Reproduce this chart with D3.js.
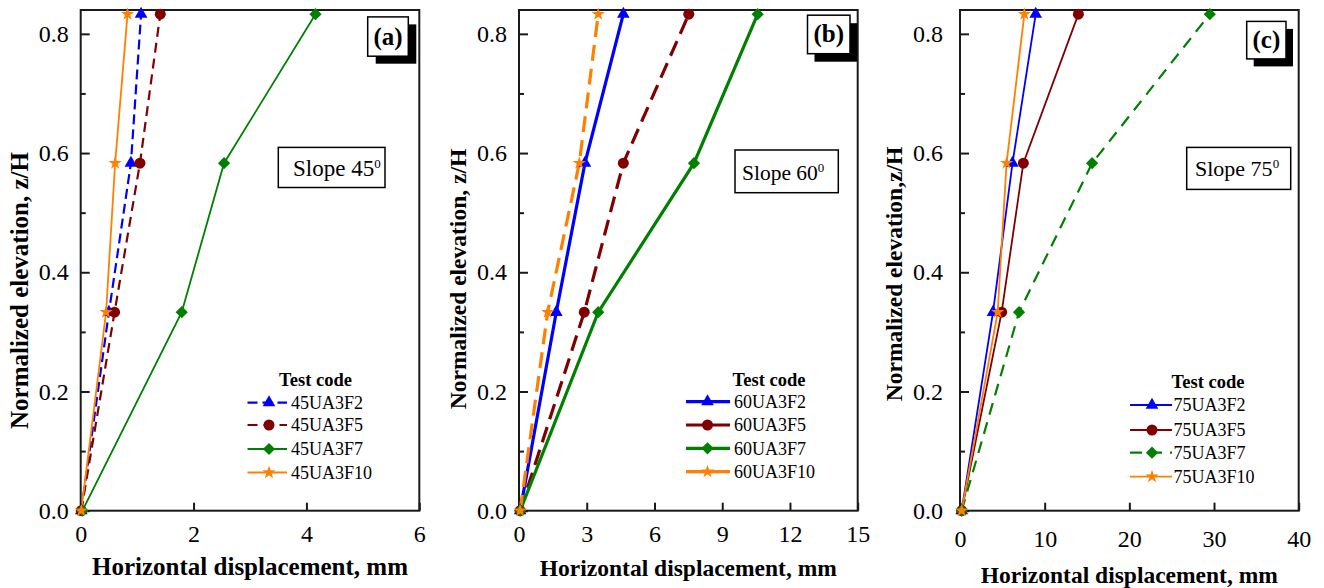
<!DOCTYPE html>
<html>
<head>
<meta charset="utf-8">
<script src="https://cdn.jsdelivr.net/npm/d3@7"></script>
<style>
	body	{ margin: 0; background: #fff; }
	svg		{ display: block; }
	text	{ font-family: "Liberation Serif", "Times New Roman", serif; fill: #000; }
</style>
</head>
<body>
<div id="root"></div>
<script>
// ---- data ----
const elevation	= [0, 0.333, 0.583, 0.833];
const fibres	= ['F2', 'F5', 'F7', 'F10'];
const slopes	= ['45', '60', '75'];
const tags		= ['(a)', '(b)', '(c)'];
const xMax		= [6, 15, 40];
const xTicks	= [[0, 2, 4, 6], [0, 3, 6, 9, 12, 15], [0, 10, 20, 30, 40]];
const yTicks	= [0, 0.2, 0.4, 0.6, 0.8];
const yMinor	= [0.1, 0.3, 0.5, 0.7];
const yTitles	= ['Normalized elevation, z/H', 'Normalized elevation, z/H', 'Normalized elevation,z/H'];
const xTitle	= 'Horizontal displacement, mm';

// rows follow fibres, columns follow elevation
const disp45	= [
	[0.01, 0.50, 0.89, 1.07],
	[0.01, 0.60, 1.05, 1.41],
	[0.03, 1.79, 2.54, 4.16],
	[0.01, 0.45, 0.61, 0.83],
];
const disp60	= [
	[0.05, 1.65, 2.92, 4.62],
	[0.05, 2.89, 4.62, 7.52],
	[0.05, 3.51, 7.75, 10.57],
	[0.05, 1.27, 2.67, 3.51],
];
const disp75	= [
	[0.2, 3.90, 6.20, 8.94],
	[0.2, 4.92, 7.48, 13.98],
	[0.2, 6.97, 15.6, 29.5],
	[0.2, 4.45, 5.50, 7.60],
];
const displacement	= [disp45, disp60, disp75];

// ---- styles ----
const colors	= ['#0000ff', '#800000', '#008000', '#ff8000'];
const symbols	= [d3.symbolTriangle, d3.symbolCircle, d3.symbolSquare, d3.symbolStar];
const symSize	= [70, 95, 75, 55];
const symTurn	= [0, 0, 45, 0];
const dashes	= [['10,5', '10,6', null, null], [null, '16,8', null, '16,8'], [null, null, '12,8', null]];
const widths	= [[2.2, 2.2, 1.8, 1.8], [3.2, 3.2, 3.2, 3.2], [1.8, 1.8, 2.2, 1.8]];
const lgndDash	= [['10,5', '10,6', null, null], [null, null, null, null], [null, null, '12,8', null]];

const top_y		= 10;
const bottom_y	= 510.7;

const panels	= [
	{ left: 80.7, right: 419.3, yPad: 12, xPad: 14, titleSize: 25, xTitleY: 575, yTitleX: 19, yTitleY: 290.5,
	  tag: [367.7, 16.9, 40.6, 39.3, 8, 7.5], slope: [278.3, 147.4, 106.7, 40.1], slopeX: 293, slopeY: 176, slopeSize: 23,
	  lgnd: { titleX: 315.5, titleY: 386, rows: [402.7, 425, 449, 472.5], x0: 247.5, x1: 287, mark: 269, text: 291 } },
	{ left: 519, right: 857.7, yPad: 12, xPad: 14, titleSize: 23.5, xTitleY: 575.5, yTitleX: 457.5, yTitleY: 279,
	  tag: [807.5, 15.2, 42.5, 38.5, 7, 8], slope: [735, 150, 103.3, 42.7], slopeX: 742, slopeY: 180, slopeSize: 21.5,
	  lgnd: { titleX: 769, titleY: 386, rows: [401.7, 425, 448.3, 471.7], x0: 686, x1: 730, mark: 707.5, text: 734 } },
	{ left: 960, right: 1298.7, yPad: 17, xPad: 19, titleSize: 23.5, xTitleY: 583, yTitleX: 894, yTitleY: 274,
	  tag: [1246.7, 21.4, 39.3, 37.5, 7, 7.5], slope: [1186.7, 147.4, 104, 42], slopeX: 1195, slopeY: 176, slopeSize: 22,
	  lgnd: { titleX: 1208, titleY: 388, rows: [405, 430, 452.7, 476.7], x0: 1130, x1: 1172, mark: 1152, text: 1173.5 } },
];

const svg	= d3.select('#root').append('svg')
	.attr('width', 1324)
	.attr('height', 588);

panels.forEach((p, i) => drawPanel(p, i));

function symbolPath(k) {
	return d3.symbol().type(symbols[k]).size(symSize[k])();
}

function drawPanel(p, i) {
	const x	= d3.scaleLinear().domain([0, xMax[i]]).range([p.left, p.right]);
	const y	= d3.scaleLinear().domain([0, 0.84]).range([bottom_y, top_y]);
	const g	= svg.append('g').attr('class', 'panel-' + i);

	// frame
	g.append('rect')
		.attr('x', p.left).attr('y', top_y)
		.attr('width', p.right - p.left).attr('height', bottom_y - top_y)
		.attr('fill', 'none').attr('stroke', '#1a1a1a').attr('stroke-width', 2);

	// axes, ticks inward
	const yAxis	= g.append('g').attr('transform', 'translate(' + p.left + ',0)')
		.call(d3.axisLeft(y).tickValues(yTicks).tickSize(-9).tickPadding(p.yPad).tickFormat(d3.format('.1f')));
	const yMin	= g.append('g').attr('transform', 'translate(' + p.left + ',0)')
		.call(d3.axisLeft(y).tickValues(yMinor).tickSize(-5).tickFormat(''));
	const xAxis	= g.append('g').attr('transform', 'translate(0,' + bottom_y + ')')
		.call(d3.axisBottom(x).tickValues(xTicks[i]).tickSize(-8).tickPadding(p.xPad).tickFormat(d3.format('d')));

	[yAxis, yMin, xAxis].forEach((a) => {
		a.select('.domain').remove();
		a.selectAll('line').attr('stroke', '#1a1a1a').attr('stroke-width', 2);
		a.selectAll('text').style('font-size', '24px').attr('fill', '#000');
	});

	// titles
	g.append('text')
		.attr('x', (p.left + p.right) / 2).attr('y', p.xTitleY)
		.attr('text-anchor', 'middle')
		.style('font-size', p.titleSize + 'px').style('font-weight', 'bold')
		.text(xTitle);

	g.append('text')
		.attr('transform', 'translate(' + p.yTitleX + ',' + p.yTitleY + ') rotate(-90)')
		.attr('text-anchor', 'middle').attr('dominant-baseline', 'central')
		.style('font-size', p.titleSize + 'px').style('font-weight', 'bold')
		.text(yTitles[i]);

	// series
	const line	= d3.line().x((d) => x(d[0])).y((d) => y(d[1]));

	displacement[i].forEach((vals, k) => {
		const pts	= vals.map((v, j) => [v, elevation[j]]);
		g.append('path')
			.datum(pts)
			.attr('d', line)
			.attr('fill', 'none')
			.attr('stroke', colors[k])
			.attr('stroke-width', widths[i][k])
			.attr('stroke-dasharray', dashes[i][k]);
	});

	displacement[i].forEach((vals, k) => {
		g.selectAll('.mark-' + k)
			.data(vals.map((v, j) => [v, elevation[j]])).enter().append('path')
			.attr('class', 'mark-' + k)
			.attr('d', symbolPath(k))
			.attr('fill', colors[k])
			.attr('transform', (d) => 'translate(' + x(d[0]) + ',' + y(d[1]) + ') rotate(' + symTurn[k] + ')');
	});

	// legend
	const l	= p.lgnd;
	g.append('text')
		.attr('x', l.titleX).attr('y', l.titleY)
		.attr('text-anchor', 'middle')
		.style('font-size', '18.5px').style('font-weight', 'bold')
		.text('Test code');

	const rows	= g.selectAll('.legend').data(fibres).enter().append('g')
		.attr('class', 'legend')
		.attr('transform', (f, k) => 'translate(0,' + l.rows[k] + ')');

	rows.append('line')
		.attr('x1', l.x0).attr('x2', l.x1)
		.attr('stroke', (f, k) => colors[k])
		.attr('stroke-width', (f, k) => widths[i][k])
		.attr('stroke-dasharray', (f, k) => lgndDash[i][k]);

	rows.append('path')
		.attr('d', (f, k) => symbolPath(k))
		.attr('fill', (f, k) => colors[k])
		.attr('transform', (f, k) => 'translate(' + l.mark + ',0) rotate(' + symTurn[k] + ')');

	rows.append('text')
		.attr('x', l.text).attr('dy', '0.35em')
		.style('font-size', '18px')
		.text((f) => slopes[i] + 'UA3' + f);

	// label box with shadow
	const t	= p.tag;
	g.append('rect')
		.attr('x', t[0] + t[4]).attr('y', t[1] + t[5])
		.attr('width', t[2]).attr('height', t[3])
		.attr('fill', '#000');
	g.append('rect')
		.attr('x', t[0]).attr('y', t[1])
		.attr('width', t[2]).attr('height', t[3])
		.attr('fill', '#fff').attr('stroke', '#000').attr('stroke-width', 1.5);
	g.append('text')
		.attr('x', t[0] + t[2] / 2).attr('y', t[1] + t[3] / 2 + 8)
		.attr('text-anchor', 'middle')
		.style('font-size', '25px').style('font-weight', 'bold')
		.text(tags[i]);

	// slope box
	const s	= p.slope;
	g.append('rect')
		.attr('x', s[0]).attr('y', s[1])
		.attr('width', s[2]).attr('height', s[3])
		.attr('fill', '#fff').attr('stroke', '#000').attr('stroke-width', 1.5);
	const st	= g.append('text')
		.attr('x', p.slopeX).attr('y', p.slopeY)
		.style('font-size', p.slopeSize + 'px');
	st.append('tspan').text('Slope ' + slopes[i]);
	st.append('tspan').attr('dy', -8.5).style('font-size', '13px').text('0');
}
</script>
</body>
</html>
